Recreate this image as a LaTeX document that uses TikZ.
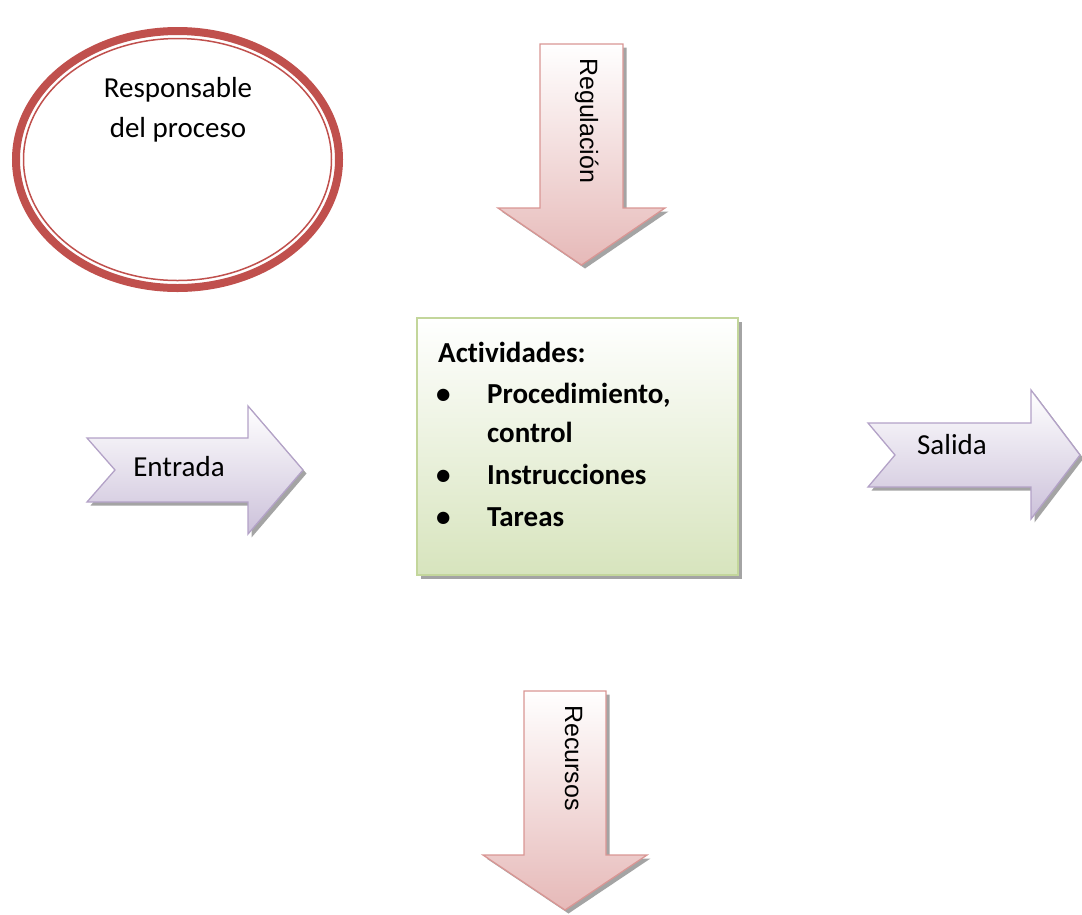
\documentclass[tikz,border=0pt]{standalone}
\usepackage{fontspec}
\setmainfont{Carlito}[Ligatures=NoCommon]
\newfontfamily\arialf{Liberation Sans}
\usetikzlibrary{shadows}
\definecolor{redline}{HTML}{C0504D}
\definecolor{pinkfill}{HTML}{E6B9B8}
\definecolor{pinkline}{HTML}{D99694}
\definecolor{lilacfill}{HTML}{CCC1DA}
\definecolor{lilacline}{HTML}{B3A2C7}
\definecolor{greenfill}{HTML}{D7E4BD}
\definecolor{greenline}{HTML}{C3D69B}
\definecolor{shadowc}{HTML}{9A9A9A}
\begin{document}
\begin{tikzpicture}[x=1pt,y=-1pt,
  shd/.style={drop shadow={shadow xshift=3.5pt,shadow yshift=-3.5pt,fill=shadowc,opacity=0.9}},
  pinkarrow/.style={shd,draw=pinkline,line width=1.3pt,top color=white,bottom color=pinkfill,line join=miter},
  lilacarrow/.style={shd,draw=lilacline,line width=1.3pt,top color=white,bottom color=lilacfill,line join=miter},
  greenbox/.style={shd,draw=greenline,line width=1.3pt,top color=white,bottom color=greenfill},
  lbl/.style={font=\fontsize{29}{35}\selectfont,inner sep=0pt},
  boxlbl/.style={font=\fontsize{29}{35}\selectfont\bfseries,inner sep=0pt,anchor=base west},
  vlbl/.style={font=\fontsize{25}{30}\selectfont\arialf,inner sep=0pt,anchor=base west,rotate=-90}]
\path[use as bounding box] (0,0) rectangle (1082,914);

% Responsable del proceso
\draw[redline,line width=8pt] (177.5,159.5) ellipse [x radius=161.5,y radius=128.5];
\draw[redline,line width=1.5pt] (177.5,159.5) ellipse [x radius=154,y radius=121];
\node[lbl,anchor=base] (resp1) at (178,97) {Responsable};
\node[lbl,anchor=base] (resp2) at (178,137) {del proceso};

% Regulacion
\path[pinkarrow] (540,44) -- (623,44) -- (623,208) -- (665,208) -- (581.5,265) -- (498,208) -- (540,208) -- cycle;
\node[vlbl] (reg) at (580,58) {Regulación};

% Recursos
\path[pinkarrow] (524,691) -- (606,691) -- (606,855) -- (647,855) -- (565,910) -- (483,855) -- (524,855) -- cycle;
\node[vlbl] (rec) at (565,705) {Recursos};

% Entrada
\path[lilacarrow] (87,438) -- (248,438) -- (248,406) -- (303,470) -- (248,534) -- (248,502) -- (87,502) -- (115,470) -- cycle;
\node[lbl,anchor=base] (ent) at (179,476) {Entrada};

% Salida
\path[lilacarrow] (868,423) -- (1031,423) -- (1031,390) -- (1080,455) -- (1031,519) -- (1031,487) -- (868,487) -- (895,455) -- cycle;
\node[lbl,anchor=base] (sal) at (952,454) {Salida};

% Actividades
\path[greenbox] (417,318) rectangle (738,575);
\node[boxlbl] (act) at (438,362) {Actividades:};
\node[boxlbl] (b1) at (436,403) {•};
\node[boxlbl] (p1) at (487,403) {Procedimiento,};
\node[boxlbl] (p2) at (487,442) {control};
\node[boxlbl] (b2) at (436,484) {•};
\node[boxlbl] (p3) at (487,484) {Instrucciones};
\node[boxlbl] (b3) at (436,526) {•};
\node[boxlbl] (p4) at (487,526) {Tareas};
\end{tikzpicture}
\end{document}
